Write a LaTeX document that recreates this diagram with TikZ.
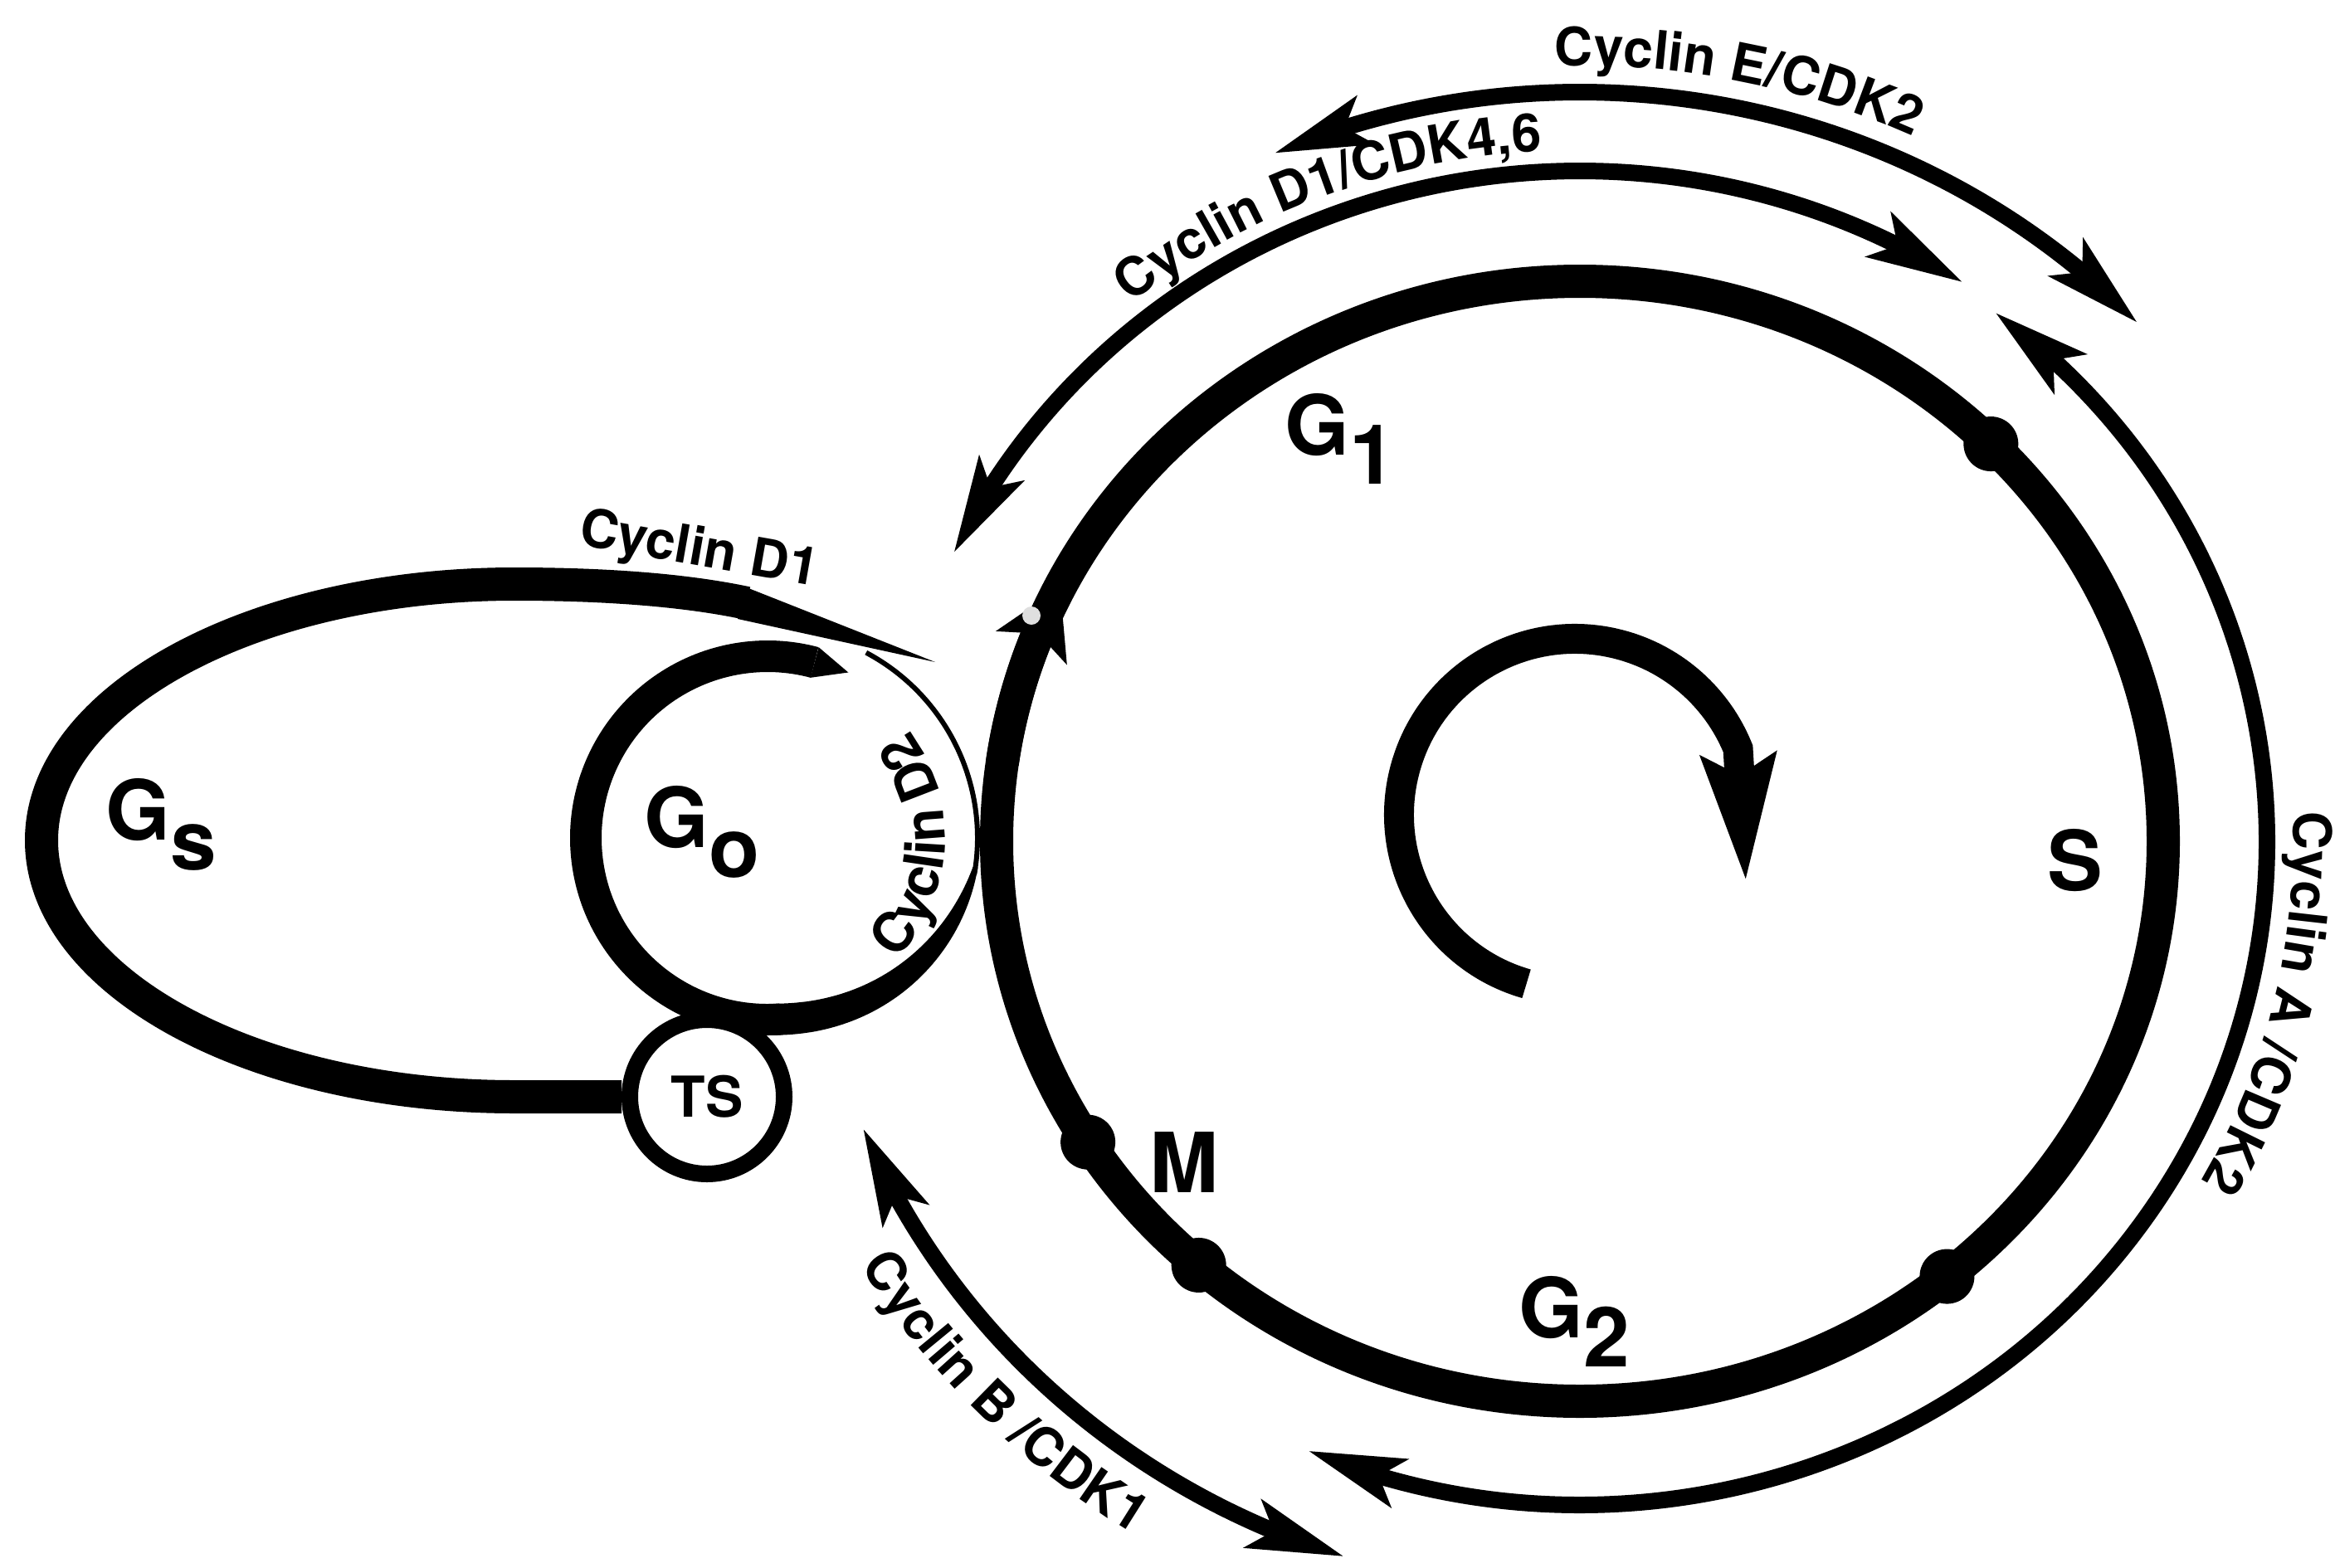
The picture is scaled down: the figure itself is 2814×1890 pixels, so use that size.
\documentclass[tikz,border=0pt]{standalone}
\usepackage{fontspec}
\newfontfamily\hv{TeX Gyre Heros}
\usetikzlibrary{arrows.meta,bending,decorations.text}
\newcommand\cycfont{\hv\bfseries\fontsize{64}{70}\selectfont}
\newcommand\dtwofont{\hv\bfseries\fontsize{66}{72}\selectfont}
\newcommand\bigfont{\hv\bfseries\fontsize{100}{110}\selectfont}
\newcommand\tsfont{\hv\bfseries\fontsize{68}{74}\selectfont}
\begin{document}
\begin{tikzpicture}[x=1pt,y=-1pt,
  phaseline/.style={line width=40pt, draw=black},
  cycarc/.style={line width=20pt, {Stealth[length=115pt,width=60pt,inset=25pt]}-{Stealth[length=115pt,width=60pt,inset=25pt]}},
  biglabel/.style={font=\bigfont, inner sep=0pt},
  cyctext/.style={decorate, decoration={text along path, text align=center, text={|\cycfont|#1}}},
  dtwotext/.style={decorate, decoration={text along path, text align=center, text={|\dtwofont|#1}}},
  tsnode/.style={circle, draw, line width=20pt, fill=white, minimum size=186pt, inner sep=0pt, font=\tsfont},
  thinline/.style={line width=6pt, draw=black}
]
\fill[white] (0,0) rectangle (2814,1890);
\useasboundingbox (0,0) rectangle (2814,1890);

\coordinate (mc) at (1904,1014);
\coordinate (gz) at (925,1010);
\coordinate (ic) at (1898,982);

% main cycle
\draw[phaseline] (mc) ellipse[x radius=703, y radius=675];
\foreach \a in {-45.2,51,130.8,147.5}
  \fill (mc) ++(\a:703 and 675) circle[radius=33];
\draw[line width=40pt, -{Stealth[length=80pt,width=92pt,inset=18pt]}]
  (mc) ++(188:703 and 675) arc[start angle=188, end angle=207, x radius=703, y radius=675];
\fill[gray!25] (1243,742) circle[radius=11];

% inner rotation arrow
\draw[line width=36pt, -{Stealth[length=150pt,width=86pt,inset=22pt]}]
  (ic) ++(106:212) arc[start angle=106, end angle=338, radius=212] -- (2104,1063);

% cyclin arcs
\draw[cycarc] (mc) ++(-154.5:836 and 808) arc[start angle=-154.5, end angle=-56.5, x radius=836, y radius=808];
\draw[cycarc] (mc) ++(-113.3:931 and 903) arc[start angle=-113.3, end angle=-43.8, x radius=931, y radius=903];
\draw[cycarc] (mc) ++(-52.8:828 and 800) arc[start angle=-52.8, end angle=113.3, x radius=828, y radius=800];
\draw[cycarc] (mc) ++(107.7:935 and 905) arc[start angle=107.7, end angle=157.5, x radius=935, y radius=905];

% cyclin labels
\path[cyctext={Cyclin D1/CDK4,6}] (mc) ++(-134:861 and 833) arc[start angle=-134, end angle=-88, x radius=861, y radius=833];
\path[cyctext={Cyclin E/CDK2}] (mc) ++(-106:963 and 935) arc[start angle=-106, end angle=-51, x radius=963, y radius=935];
\path[cyctext={Cyclin A /CDK2}] (mc) ++(-14:860 and 832) arc[start angle=-14, end angle=41, x radius=860, y radius=832];
\path[cyctext={Cyclin B /CDK1}] (mc) ++(164:1015 and 985) arc[start angle=164, end angle=107, x radius=1015, y radius=985];

% G0 ring with its tapering Cyclin D2 band
\draw[line width=38pt] (gz) ++(86:219) arc[start angle=86, end angle=285, radius=219];
\fill (976.8,816.8) -- (986.6,780.1) -- (1022.3,810.5) -- cycle;
\fill plot[domain=88:8, samples=50]
    ({925+(200+50*((88-\x)/80)^1.5+38-32*((88-\x)/80)^2)*cos(\x)},
     {1010+(200+50*((88-\x)/80)^1.5+38-32*((88-\x)/80)^2)*sin(\x)})
  -- plot[domain=8:88, samples=50]
    ({925+(200+50*((88-\x)/80)^1.5)*cos(\x)},
     {1010+(200+50*((88-\x)/80)^1.5)*sin(\x)})
  -- cycle;
\draw[thinline] (gz) ++(10:253) arc[start angle=10, end angle=-62, radius=253];
\path[dtwotext={Cyclin D2}] (gz) ++(58:214) arc[start angle=58, end angle=-52, radius=214];

% TS and Gs loop
\node[tsnode] (ts) at (852,1322) {TS};
\draw[phaseline] (ts.west) -- (620,1322)
  arc[start angle=90, end angle=270, x radius=570, y radius=309]
  .. controls (720,704) and (820,710) .. (900,727);
\fill (897,707) -- (1127,798) -- (889,746) -- cycle;
\node[font=\cycfont, rotate=-10, inner sep=0pt] (cd1) at (842,665) {Cyclin D1};

% phase labels
\node[biglabel, anchor=base west] (g1) at (1548,548) {G\lower35pt\hbox{1}};
\node[biglabel, anchor=base west] (gsl) at (127,1012) {G\lower36pt\hbox{s}};
\node[biglabel, anchor=base west] (g0l) at (776,1021) {G\lower36pt\hbox{o}};
\node[biglabel, anchor=base west] (g2) at (1830,1612) {G\lower35pt\hbox{2}};
\node[biglabel] (s) at (2501,1037) {S};
\node[biglabel] (m) at (1427,1401) {M};
\end{tikzpicture}
\end{document}
